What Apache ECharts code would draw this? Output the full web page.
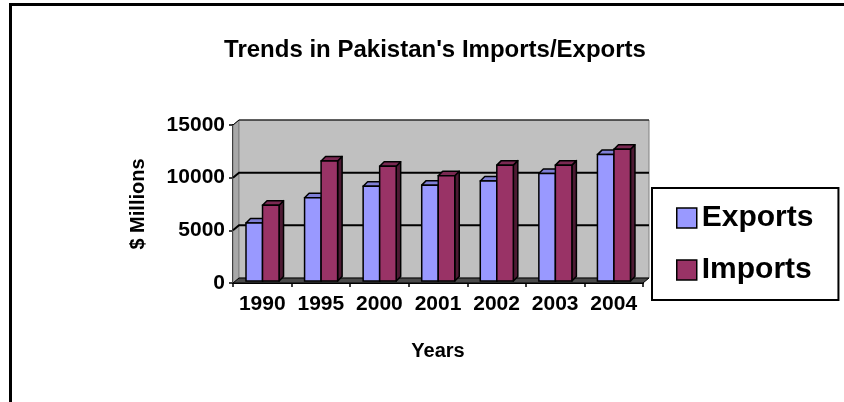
<!DOCTYPE html>
<html>
<head>
<meta charset="utf-8">
<script src="https://cdn.jsdelivr.net/npm/echarts@6/dist/echarts.min.js"></script>
<style>
html,body{margin:0;padding:0;background:#fff;}
#chart{width:844px;height:402px;}
</style>
</head>
<body>
<div id="chart"></div>
<script>
const categories = ['1990', '1995', '2000', '2001', '2002', '2003', '2004'];
const exportsValues = [5500, 7900, 9000, 9100, 9500, 10200, 12000];
const importsValues = [7200, 11400, 10900, 10000, 11000, 11000, 12500];
const yTickValues = [0, 5000, 10000, 15000];
const seriesNames = ['Exports', 'Imports'];
const titleText = "Trends in Pakistan's Imports/Exports";
const xAxisTitle = 'Years';
const yAxisTitle = '$ Millions';

const FONT = "'Liberation Sans', Arial, sans-serif";
const WALL = { dx: 6, dy: -5 };
const BAR = { dx: 4.5, dy: -4.5, lift: 2 };

const colors = {
  Exports: { front: '#9999FF', top: '#7F7FD6', side: '#5C5CA8' },
  Imports: { front: '#993366', top: '#7A2952', side: '#4D1A33' }
};

function wallRenderer(params, api) {
  const cs = params.coordSys;
  const x0 = cs.x, y0 = cs.y, w = cs.width, h = cs.height;
  const dx = WALL.dx, dy = WALL.dy;
  const children = [];
  children.push({ type: 'polygon', shape: { points: [[x0, y0], [x0 + dx, y0 + dy], [x0 + dx, y0 + h + dy], [x0, y0 + h]] },
    style: { fill: '#A8A8A8', stroke: '#808080', lineWidth: 1 } });
  children.push({ type: 'rect', shape: { x: x0 + dx, y: y0 + dy, width: w, height: h },
    style: { fill: '#C0C0C0', stroke: '#808080', lineWidth: 1 } });
  children.push({ type: 'polygon', shape: { points: [[x0, y0 + h], [x0 + dx, y0 + h + dy], [x0 + w + dx, y0 + h + dy], [x0 + w, y0 + h]] },
    style: { fill: '#4A4A4A', stroke: '#000', lineWidth: 1 } });
  yTickValues.forEach(function (v) {
    if (v === 0) return;
    const p = api.coord([0, v]);
    const y = p[1];
    children.push({ type: 'polyline', shape: { points: [[x0, y], [x0 + dx, y + dy], [x0 + w + dx, y + dy]] },
      style: { stroke: '#000', lineWidth: v === yTickValues[yTickValues.length - 1] ? 1 : 2, fill: null } });
  });
  return { type: 'group', children: children, silent: true };
}

function barRenderer(slot, name) {
  return function (params, api) {
    const i = api.value(0), v = api.value(1);
    const c0 = api.coord([i, 0]);
    const c1 = api.coord([i, v]);
    const band = api.size([1, 0])[0];
    const w = band * 0.282;
    const x0 = c0[0] - band * 0.278 + slot * w;
    const yb = c0[1] - BAR.lift, yt = c1[1] - BAR.lift;
    const dx = BAR.dx, dy = BAR.dy;
    const col = colors[name];
    return {
      type: 'group',
      children: [
        { type: 'polygon', shape: { points: [[x0 + w, yt], [x0 + w + dx, yt + dy], [x0 + w + dx, yb + dy], [x0 + w, yb]] },
          style: { fill: col.side, stroke: '#000', lineWidth: 1.5, lineJoin: 'round' } },
        { type: 'polygon', shape: { points: [[x0, yt], [x0 + dx, yt + dy], [x0 + w + dx, yt + dy], [x0 + w, yt]] },
          style: { fill: col.top, stroke: '#000', lineWidth: 1.5, lineJoin: 'round' } },
        { type: 'rect', shape: { x: x0, y: yt, width: w, height: yb - yt },
          style: { fill: col.front, stroke: '#000', lineWidth: 1.5 } }
      ]
    };
  };
}

const chart = echarts.init(document.getElementById('chart'), null, { renderer: 'canvas' });

const option = {
  backgroundColor: '#ffffff',
  animation: false,
  textStyle: { fontFamily: FONT },
  title: {
    text: titleText,
    left: 430,
    top: 33,
    textAlign: 'center',
    textStyle: { fontFamily: FONT, fontSize: 24, fontWeight: 'bold', color: '#000' }
  },
  legend: {
    orient: 'vertical',
    left: 652,
    top: 188,
    padding: [15, 25, 15, 24],
    itemGap: 22,
    itemWidth: 20,
    itemHeight: 20,
    itemTextGap: 10,
    backgroundColor: '#fff',
    borderColor: '#000',
    borderWidth: 2,
    borderRadius: 0,
    data: seriesNames.map(function (n) {
      return { name: n, icon: 'rect', itemStyle: { color: colors[n].front, borderColor: '#000', borderWidth: 1.5 } };
    }),
    textStyle: { fontFamily: FONT, fontSize: 30, fontWeight: 'bold', color: '#000', lineHeight: 30 }
  },
  grid: { left: 233, right: 201, top: 125, bottom: 119, containLabel: false },
  xAxis: {
    type: 'category',
    data: categories,
    boundaryGap: true,
    name: xAxisTitle,
    nameLocation: 'middle',
    nameGap: 58,
    nameTextStyle: { fontFamily: FONT, fontSize: 20, fontWeight: 'bold', color: '#000' },
    axisLine: { show: true, lineStyle: { color: '#000', width: 2 } },
    axisTick: { show: true, length: 4, lineStyle: { color: '#000', width: 1.5 } },
    axisLabel: { interval: 0, hideOverlap: false, margin: 11, fontFamily: FONT, fontSize: 21, fontWeight: 'bold', color: '#000' },
    splitLine: { show: false }
  },
  yAxis: {
    type: 'value',
    min: 0,
    max: 15000,
    interval: 5000,
    name: yAxisTitle,
    nameLocation: 'middle',
    nameGap: 85,
    nameTextStyle: { fontFamily: FONT, fontSize: 20, fontWeight: 'bold', color: '#000' },
    axisLine: { show: true, lineStyle: { color: '#000', width: 2 } },
    axisTick: { show: true, length: 4, lineStyle: { color: '#000', width: 1.5 } },
    axisLabel: { margin: 8, fontFamily: FONT, fontSize: 21, fontWeight: 'bold', color: '#000',
      formatter: function (v) { return String(v); } },
    splitLine: { show: false }
  },
  graphic: [
    { type: 'polyline', shape: { points: [[10.5, 402], [10.5, 4.5], [844, 4.5]] },
      style: { stroke: '#000', lineWidth: 3, fill: null }, z: 100 }
  ],
  series: [
    {
      type: 'custom', name: '_wall', silent: true, z: 1,
      renderItem: wallRenderer,
      data: [[0, 0]],
      encode: { x: 0, y: 1 }
    },
    {
      type: 'custom', name: seriesNames[0], z: 5,
      itemStyle: { color: colors.Exports.front },
      renderItem: barRenderer(0, 'Exports'),
      data: exportsValues.map(function (v, i) { return [i, v]; }),
      encode: { x: 0, y: 1 }
    },
    {
      type: 'custom', name: seriesNames[1], z: 6,
      itemStyle: { color: colors.Imports.front },
      renderItem: barRenderer(1, 'Imports'),
      data: importsValues.map(function (v, i) { return [i, v]; }),
      encode: { x: 0, y: 1 }
    }
  ]
};
chart.setOption(option);
</script>
</body>
</html>
